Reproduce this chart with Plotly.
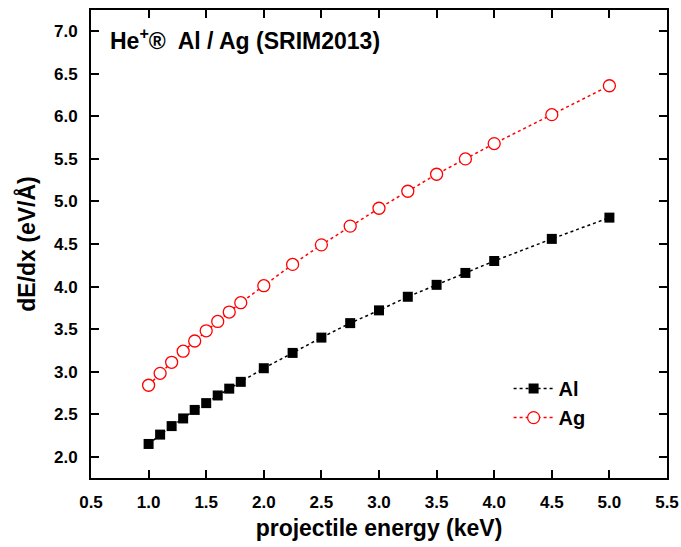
import plotly.graph_objects as go

# projectile energy (keV)
energy = [1.0, 1.1, 1.2, 1.3, 1.4, 1.5, 1.6, 1.7, 1.8, 2.0,
          2.25, 2.5, 2.75, 3.0, 3.25, 3.5, 3.75, 4.0, 4.5, 5.0]

# electronic stopping dE/dx (eV/Å), SRIM2013
al_stopping = [2.15, 2.26, 2.36, 2.45, 2.55, 2.63, 2.72, 2.80, 2.88, 3.04,
               3.22, 3.40, 3.57, 3.72, 3.88, 4.02, 4.16, 4.30, 4.56, 4.81]
ag_stopping = [2.84, 2.98, 3.11, 3.24, 3.36, 3.48, 3.59, 3.70, 3.81, 4.01,
               4.26, 4.49, 4.71, 4.92, 5.12, 5.32, 5.50, 5.68, 6.02, 6.36]

x_ticks = [0.5, 1.0, 1.5, 2.0, 2.5, 3.0, 3.5, 4.0, 4.5, 5.0, 5.5]
y_ticks = [2.0, 2.5, 3.0, 3.5, 4.0, 4.5, 5.0, 5.5, 6.0, 6.5, 7.0]

FONT = "Liberation Sans, Arial, sans-serif"

fig = go.Figure()
fig.add_trace(go.Scatter(
    x=energy, y=al_stopping, name="<b>Al</b>", mode="lines+markers",
    line=dict(color="black", width=1.5, dash="dot"),
    marker=dict(symbol="square", size=10, color="black"),
))
fig.add_trace(go.Scatter(
    x=energy, y=ag_stopping, name="<b>Ag</b>", mode="lines+markers",
    line=dict(color="red", width=1.5, dash="dot"),
    marker=dict(symbol="circle", size=12, color="white",
                line=dict(width=1.3, color="red")),
))

axis_common = dict(
    showgrid=False, zeroline=False, showline=True, linecolor="black",
    linewidth=2, mirror="allticks", ticks="inside", ticklen=8, tickwidth=1.5,
    tickcolor="black", automargin=False,
    tickfont=dict(family=FONT, size=17, color="black", weight="bold"),
    minor=dict(ticks="inside", ticklen=5, tickwidth=1.5, tickcolor="black"),
)

fig.update_xaxes(
    range=[0.5, 5.5], tickvals=x_ticks,
    ticktext=[f"{v:.1f}" for v in x_ticks],
    ticklabelstandoff=8,
    title=dict(text="<b>projectile energy (keV)</b>", standoff=8,
               font=dict(family=FONT, size=23, color="black")),
    **axis_common,
)
fig.update_yaxes(
    range=[1.75, 7.25], tickvals=y_ticks,
    ticktext=[f"{v:.1f}" for v in y_ticks],
    ticklabelstandoff=8,
    title=dict(text="<b>dE/dx (eV/Å)</b>", standoff=12,
               font=dict(family=FONT, size=23, color="black")),
    **axis_common,
)

fig.add_annotation(
    x=0.03, y=0.975, xref="paper", yref="paper", xanchor="left", yanchor="top",
    text="<b>He<sup>+</sup>®  Al / Ag (SRIM2013)</b>", showarrow=False,
    font=dict(family=FONT, size=23, color="black"),
)

fig.update_layout(
    width=681, height=547,
    margin=dict(l=91, r=14, t=10, b=69),
    plot_bgcolor="white", paper_bgcolor="white",
    showlegend=True,
    legend=dict(x=0.725, y=0.16, xanchor="left", yanchor="middle",
                bgcolor="rgba(0,0,0,0)", font=dict(family=FONT, size=20, color="black"),
                tracegroupgap=0, itemwidth=40),
)

fig.write_html("out.html")
